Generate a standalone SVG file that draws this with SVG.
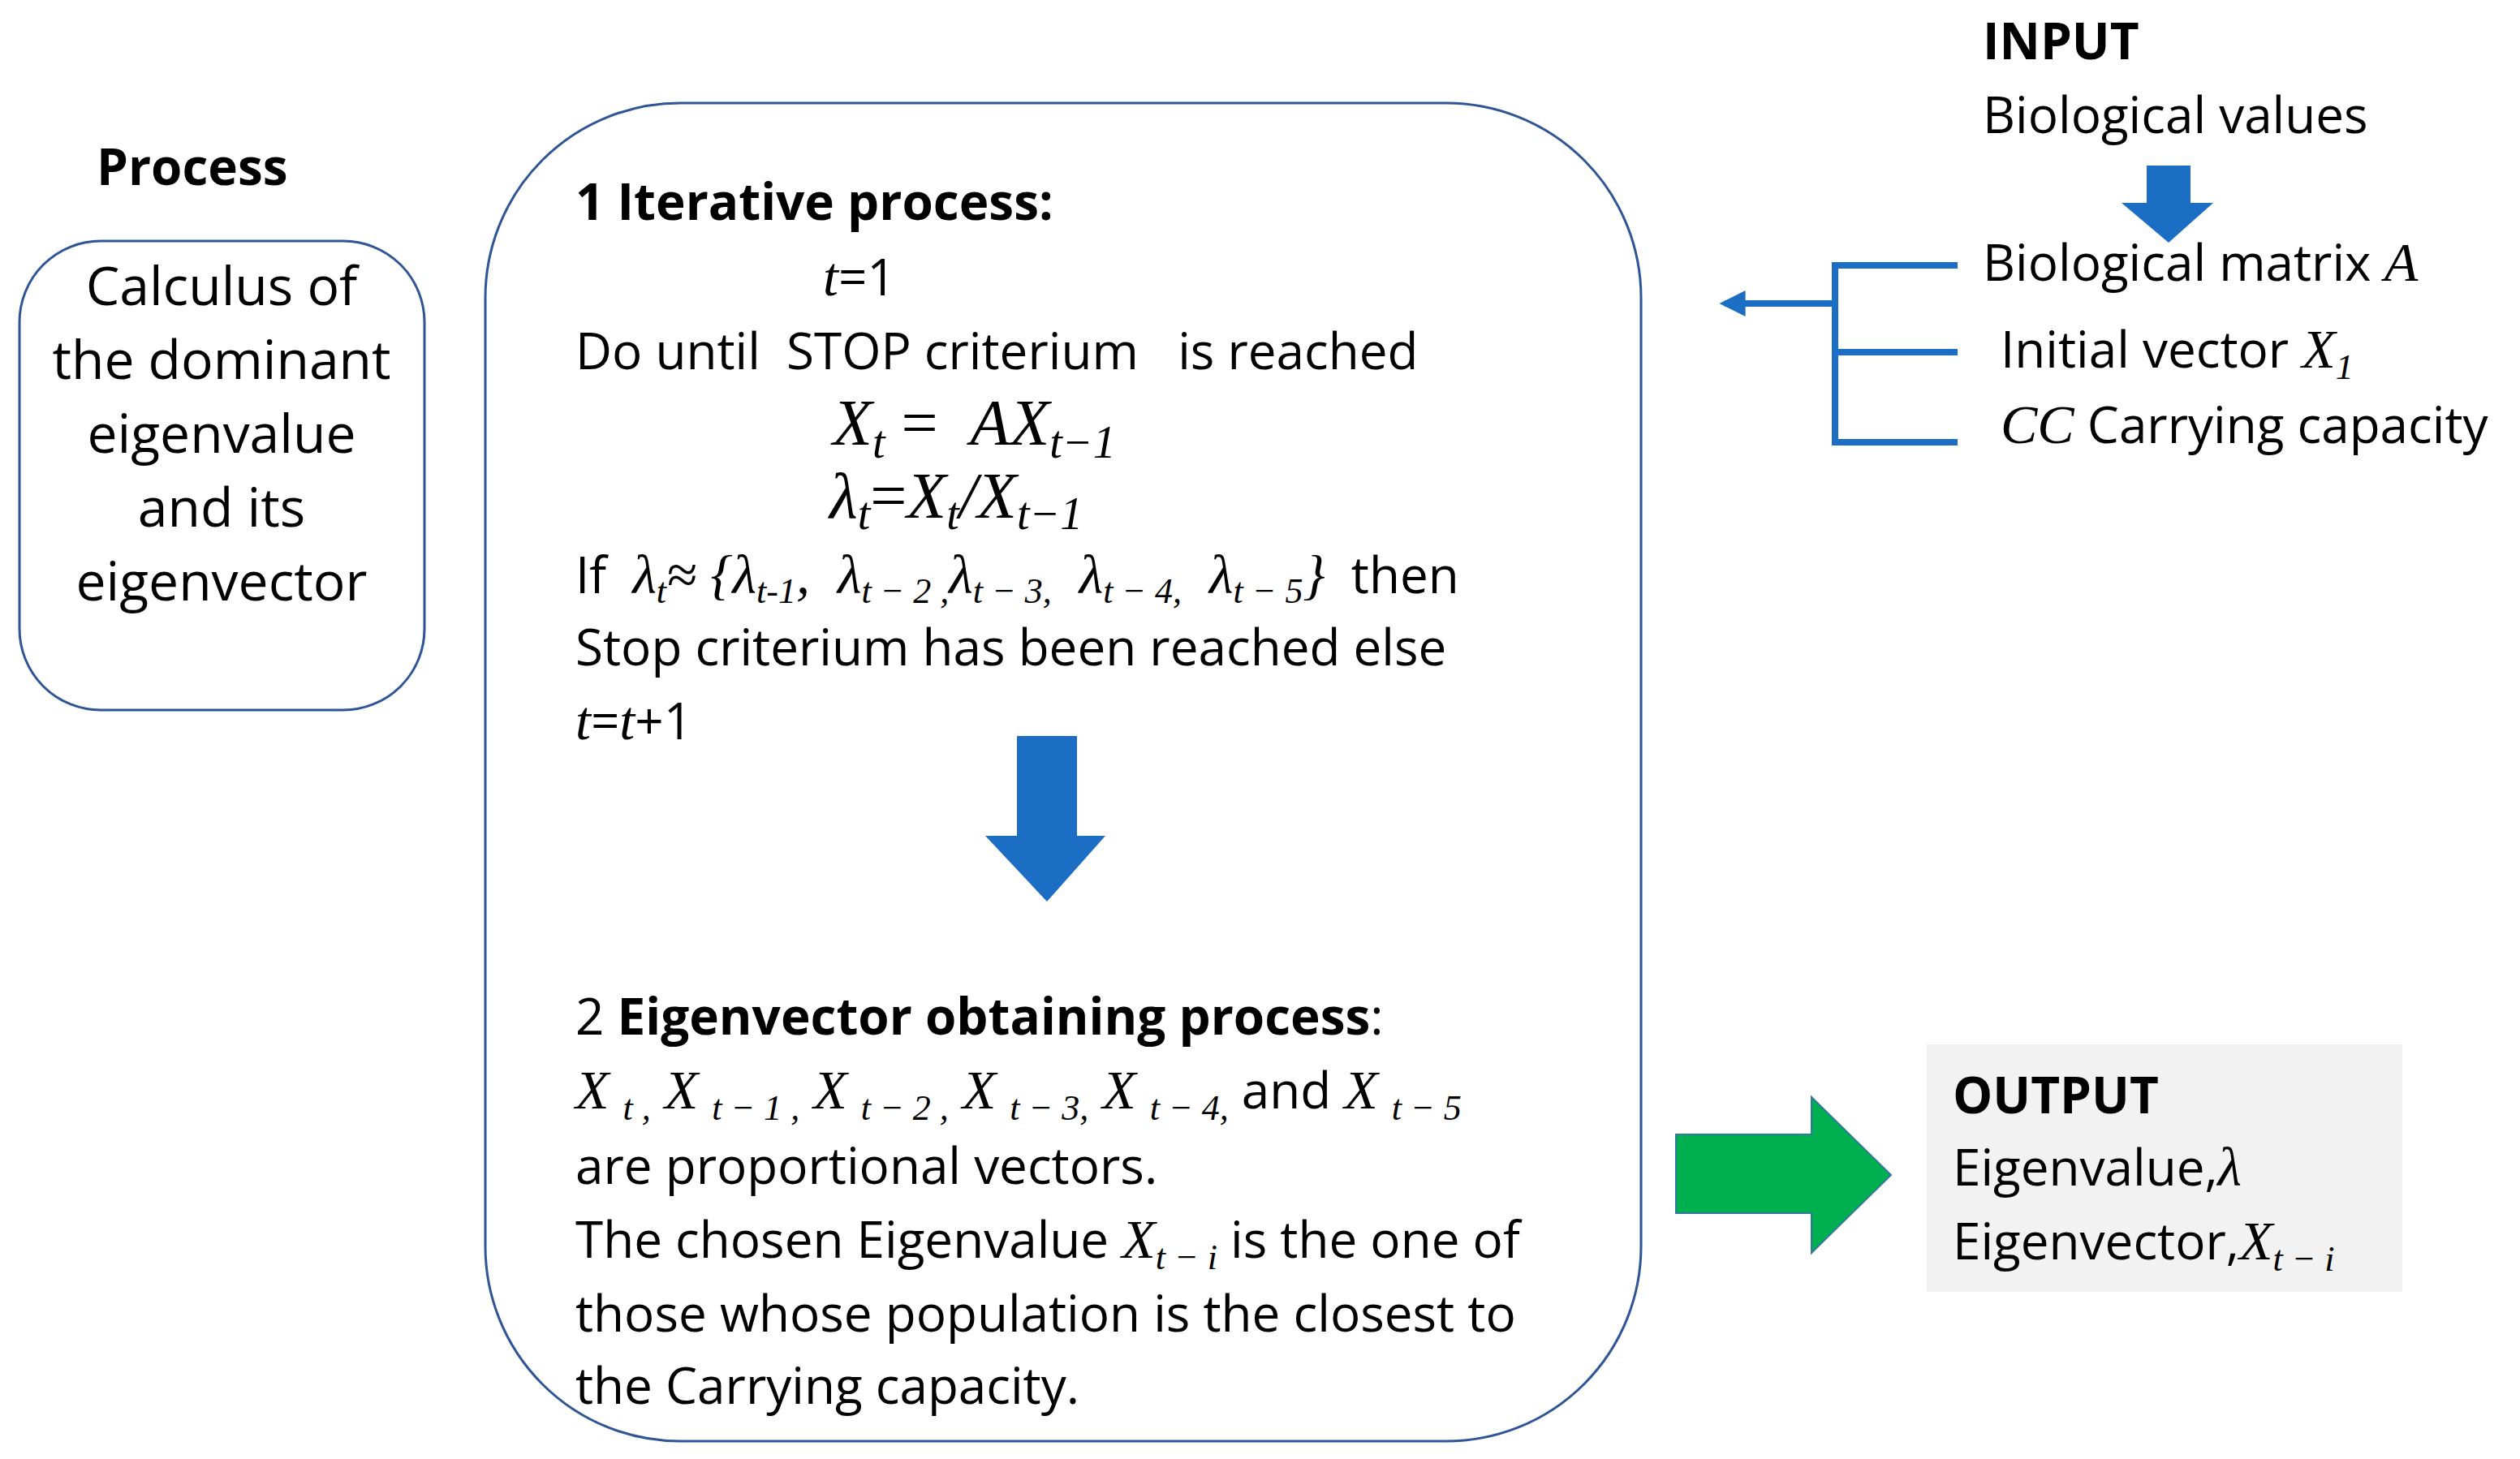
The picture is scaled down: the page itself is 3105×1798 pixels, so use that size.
<svg xmlns="http://www.w3.org/2000/svg" width="3105" height="1798" viewBox="0 0 3105 1798">
<style>
.t{font-family:"Open Sans","Liberation Sans",sans-serif;font-size:62px;fill:#000;white-space:pre}
.c{font-size:66px}
.b{font-weight:bold}
.m{font-family:"Liberation Serif",serif;font-style:italic;font-size:68px}
.s{font-size:44px}
.eq{font-family:"Liberation Serif",serif;font-style:italic;font-size:80px;fill:#000;white-space:pre}
.es{font-size:56px}
.box{fill:#fff;stroke:#2f5597;stroke-width:3}
.blue{fill:#1b6ec4}
.ln{stroke:#1b6ec4;stroke-width:8;fill:none}
</style>
<defs>
<marker id="ah" viewBox="0 0 10 10" refX="8" refY="5" markerWidth="4" markerHeight="4" orient="auto"><path d="M0,0 L10,5 L0,10 z" fill="#1b6ec4"/></marker>
</defs>
<rect width="3105" height="1798" fill="#fff"/>
<g id="process-label"><text class="t b" x="119" y="228">Process</text></g>
<g id="calculus">
<rect class="box" x="24" y="297" width="499" height="578" rx="100"/>
<text class="t c" text-anchor="middle" x="273" y="376">Calculus of</text>
<text class="t c" text-anchor="middle" x="273" y="467">the dominant</text>
<text class="t c" text-anchor="middle" x="273" y="558">eigenvalue</text>
<text class="t c" text-anchor="middle" x="273" y="649">and its</text>
<text class="t c" text-anchor="middle" x="273" y="740">eigenvector</text>
</g>
<g id="main">
<rect class="box" x="598" y="127" width="1424" height="1649" rx="240"/>
<text class="t b" x="709" y="271">1 Iterative process:</text>
<text class="t" x="1014" y="364"><tspan class="m">t</tspan>=1</text>
<text class="t" x="709" y="455">Do until  STOP criterium   is reached</text>
<text class="eq" x="1026" y="548">X<tspan class="es" dy="16">t</tspan><tspan dy="-16" font-style="normal"> =  </tspan>AX<tspan class="es" dy="16">t−1</tspan></text>
<text class="eq" x="1022" y="638">λ<tspan class="es" dy="14">t</tspan><tspan dy="-14" font-style="normal">=</tspan>X<tspan class="es" dy="14">t</tspan><tspan dy="-14">/X</tspan><tspan class="es" dy="14">t−1</tspan></text>
<text class="t" x="709" y="731">If  <tspan class="m">λ<tspan class="s" dy="12">t</tspan><tspan dy="-12">≈ {λ</tspan><tspan class="s" dy="12">t-1</tspan><tspan dy="-12">,  λ</tspan><tspan class="s" dy="12">t − 2 ,</tspan><tspan dy="-12">λ</tspan><tspan class="s" dy="12">t − 3,</tspan><tspan dy="-12">  λ</tspan><tspan class="s" dy="12">t − 4,</tspan><tspan dy="-12">  λ</tspan><tspan class="s" dy="12">t − 5</tspan><tspan dy="-12">}</tspan></tspan>  then</text>
<text class="t" x="709" y="820">Stop criterium has been reached else</text>
<text class="t" x="709" y="911"><tspan class="m">t</tspan>=<tspan class="m">t</tspan>+1</text>
<path class="blue" d="M1253,907 H1327 V1030 H1362 L1290,1111 L1214,1030 H1253 Z"/>
<text class="t" x="709" y="1275">2 <tspan class="b">Eigenvector obtaining process</tspan>:</text>
<text class="t" x="709" y="1366"><tspan class="m">X <tspan class="s" dy="14">t ,</tspan><tspan dy="-14"> X </tspan><tspan class="s" dy="14">t − 1 ,</tspan><tspan dy="-14"> X </tspan><tspan class="s" dy="14">t − 2 ,</tspan><tspan dy="-14"> X </tspan><tspan class="s" dy="14">t − 3,</tspan><tspan dy="-14"> X </tspan><tspan class="s" dy="14">t − 4,</tspan></tspan><tspan dy="-14"> and </tspan><tspan class="m">X <tspan class="s" dy="14">t − 5</tspan></tspan></text>
<text class="t" x="709" y="1459">are proportional vectors.</text>
<text class="t" x="709" y="1550">The chosen Eigenvalue <tspan class="m">X<tspan class="s" dy="14">t − i</tspan></tspan><tspan dy="-14"> is the one of</tspan></text>
<text class="t" x="709" y="1641">those whose population is the closest to</text>
<text class="t" x="709" y="1730">the Carrying capacity.</text>
</g>
<g id="input">
<text class="t b" x="2443" y="73">INPUT</text>
<text class="t" x="2443" y="164">Biological values</text>
<path class="blue" d="M2645,204 H2699 V250 H2727 L2672,299 L2614,250 H2645 Z"/>
<text class="t" x="2443" y="346">Biological matrix <tspan class="m">A</tspan></text>
<text class="t" x="2465" y="453">Initial vector <tspan class="m">X<tspan class="s" dy="14">1</tspan></tspan></text>
<text class="t" x="2465" y="546"><tspan class="m">CC</tspan> Carrying capacity</text>
</g>
<g id="output">
<rect x="2374" y="1287" width="586" height="305" fill="#f2f2f2"/>
<text class="t b" x="2406" y="1372">OUTPUT</text>
<text class="t" x="2406" y="1461">Eigenvalue,<tspan class="m">λ</tspan></text>
<text class="t" x="2406" y="1552">Eigenvector,<tspan class="m">X<tspan class="s" dy="14">t − i</tspan></tspan></text>
</g>
<g id="connectors">
<path class="ln" d="M2412,327 H2261 V545 H2412 M2261,434 H2412"/>
<path class="ln" d="M2261,374 H2125" marker-end="url(#ah)"/>
<path d="M2065,1398 H2232 V1352 L2330,1448 L2232,1544 V1495 H2065 Z" fill="#00b050" stroke="#2f7a9a" stroke-width="2"/>
</g>
</svg>
